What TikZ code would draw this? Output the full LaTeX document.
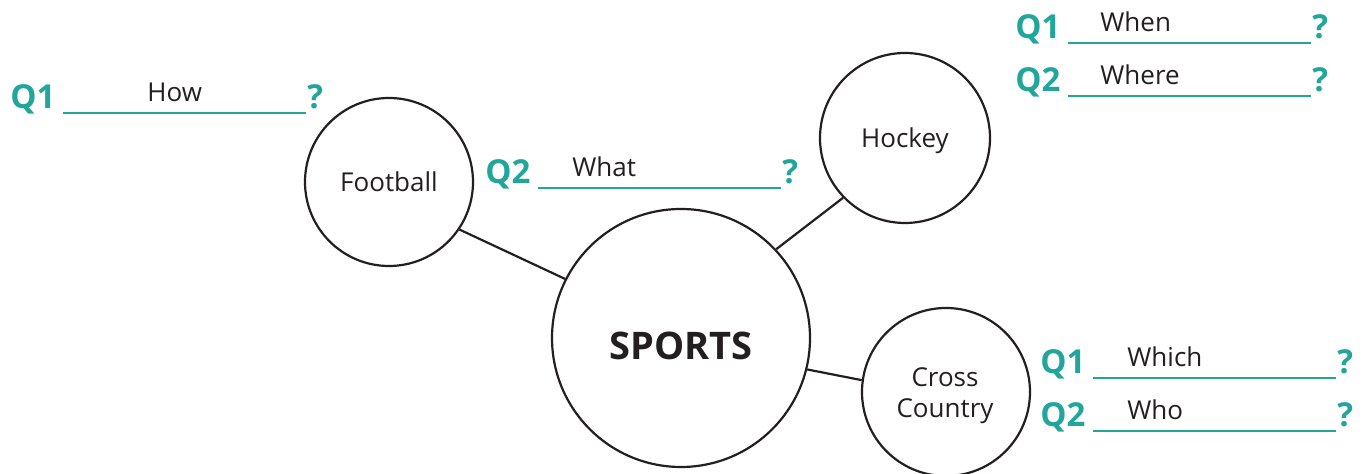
\documentclass[tikz,border=0pt]{standalone}
\usepackage{fontspec}
\setmainfont{Open Sans}
\definecolor{teal1}{RGB}{34,166,156}
\definecolor{ink}{RGB}{35,31,32}
\tikzset{
  bubble/.style={circle, draw=ink, line width=1.1pt, inner sep=0pt},
  link/.style={draw=ink, line width=1.1pt},
  word/.style={inner sep=0pt, text=ink, font=\fontsize{13}{16}\selectfont, anchor=base},
  bigword/.style={inner sep=0pt, text=ink, font=\fontsize{19}{22}\selectfont\bfseries, anchor=base},
  qlab/.style={inner sep=0pt, text=teal1, font=\fontsize{16.5}{19}\selectfont\bfseries, anchor=base west},
  ans/.style={inner sep=0pt, text=ink, font=\fontsize{13}{16}\selectfont, anchor=base west},
  uline/.style={draw=teal1, line width=1pt}
}
\newcommand\qrow[6]{%
  \node[qlab] (#1q) at (#2, #3) {#4};
  \coordinate (#1s) at (#2+53, #3+4);
  \coordinate (#1e) at (#2+296, #3+4);
  \draw[uline] (#1s) -- (#1e);
  \node[qlab] (#1m) at (#2+297, #3) {?};
  \node[ans] (#1a) at (#2+#6, #3-7) {#5};
}
\begin{document}
\begin{tikzpicture}[x=0.5pt, y=-0.5pt]
\useasboundingbox (0,0) rectangle (1366,474);
\clip (0,0) rectangle (1366,474);
% circles
\node[bubble, minimum size=84pt] (fb) at (389,182) {};
\node[bubble, minimum size=85pt] (hk) at (905,138) {};
\node[bubble, minimum size=129pt] (sp) at (681,338) {};
\node[bubble, minimum size=84pt] (cc) at (946,392) {};
% circle texts
\node[word] (fbt) at (389,192) {Football};
\node[word] (hkt) at (905,148) {Hockey};
\node[bigword] (spt) at (681,360) {SPORTS};
\node[word] (cct1) at (945,387) {Cross};
\node[word] (cct2) at (945,418) {Country};
% connectors
\draw[link] (fb.-34) -- (sp.153);
\draw[link] (hk.224) -- (sp.43.5);
\draw[link] (cc.172) -- (sp.-14.7);
% question rows
\qrow{a}{10}{109}{Q1}{How}{137}
\qrow{b}{485}{184}{Q2}{What}{87}
\qrow{c}{1015}{39}{Q1}{When}{85}
\qrow{d}{1015}{92}{Q2}{Where}{85}
\qrow{e}{1040}{374}{Q1}{Which}{87}
\qrow{f}{1040}{427}{Q2}{Who}{87}
\end{tikzpicture}
\end{document}
